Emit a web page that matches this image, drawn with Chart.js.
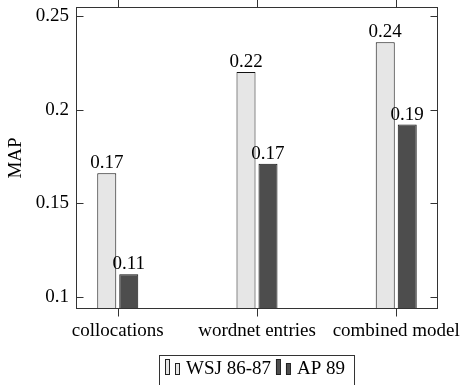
<!DOCTYPE html>
<html>
<head>
<meta charset="utf-8">
<script src="https://cdn.jsdelivr.net/npm/chart.js@4.4.1/dist/chart.umd.min.js"></script>
<style>
  html, body { margin: 0; padding: 0; background: #fff; }
  #wrap { width: 462px; height: 385px; position: relative; }
</style>
</head>
<body>
<div id="wrap"><canvas id="chart"></canvas></div>
<script>
// data
const categories = ["collocations", "wordnet entries", "combined model"];
const seriesNames = ["WSJ 86-87", "AP 89"];
const wsjValues = [0.166, 0.220, 0.236];
const apValues = [0.112, 0.171, 0.192];
const yTicks = [0.1, 0.15, 0.2, 0.25];

const FONT = "'Liberation Serif', 'Times New Roman', serif";
const fills = ["#e6e6e6", "#4d4d4d"];

// value labels above each bar
const valueLabels = {
  id: "valueLabels",
  afterDatasetsDraw(chart) {
    const ctx = chart.ctx;
    ctx.save();
    ctx.font = "19px " + FONT;
    ctx.fillStyle = "#000";
    ctx.textAlign = "center";
    ctx.textBaseline = "alphabetic";
    chart.data.datasets.forEach((ds, di) => {
      chart.getDatasetMeta(di).data.forEach((bar, i) => {
        ctx.fillText(ds.data[i].y.toFixed(2), bar.x, bar.y - 5);
      });
    });
    ctx.restore();
  }
};

// pgfplots-like frame: box, x ticks outward, y ticks inward
const frame = {
  id: "frame",
  afterDraw(chart) {
    const { ctx, chartArea: a, scales: { x, y } } = chart;
    const L = Math.round(a.left) + 0.5, R = Math.round(a.right) - 0.5;
    const T = Math.round(a.top) + 0.5, B = Math.round(a.bottom) - 0.5;
    const line = (x1, y1, x2, y2) => { ctx.beginPath(); ctx.moveTo(x1, y1); ctx.lineTo(x2, y2); ctx.stroke(); };
    ctx.save();
    ctx.strokeStyle = "#333";
    ctx.lineWidth = 1;
    ctx.strokeRect(L, T, R - L, B - T);
    categories.forEach((_, i) => {
      const px = Math.round(x.getPixelForValue(i)) + 0.5;
      line(px, T - 8, px, T);
      line(px, B, px, B + 8);
    });
    yTicks.forEach(v => {
      const py = Math.round(y.getPixelForValue(v)) + 0.5;
      line(L, py, L + 7, py);
      line(R - 7, py, R, py);
    });
    ctx.restore();
  }
};

// boxed legend with little double-bar icons
const boxLegend = {
  id: "boxLegend",
  afterDraw(chart) {
    const { ctx, chartArea: a } = chart;
    ctx.save();
    ctx.font = "19px " + FONT;
    const widths = seriesNames.map(t => ctx.measureText(t).width);
    const pad = 6, icon = 14, gapIcon = 7, gapItem = 5, padR = 9;
    const total = pad + (icon + gapIcon) * 2 + widths[0] + gapItem + widths[1] + padR;
    const cx = (a.left + a.right) / 2;
    let x0 = Math.round(cx - total / 2);
    const top = 355, base = 374;
    ctx.strokeStyle = "#333";
    ctx.lineWidth = 1;
    ctx.strokeRect(x0 + 0.5, top + 0.5, total, 40);
    let cur = x0 + pad;
    seriesNames.forEach((name, i) => {
      ctx.fillStyle = fills[i];
      ctx.strokeStyle = "#222";
      ctx.fillRect(cur, base - 15, 4, 15);
      ctx.strokeRect(cur + 0.5, base - 15 + 0.5, 4, 15);
      ctx.fillRect(cur + 10, base - 11, 4, 11);
      ctx.strokeRect(cur + 10.5, base - 11 + 0.5, 4, 11);
      cur += icon + gapIcon;
      ctx.fillStyle = "#000";
      ctx.textBaseline = "alphabetic";
      ctx.fillText(name, cur, base);
      cur += widths[i] + gapItem;
    });
    ctx.restore();
  }
};

const pickTicks = list => scale => { scale.ticks = list.map(v => ({ value: v })); };

new Chart(document.getElementById("chart"), {
  type: "bar",
  data: {
    datasets: [
      { label: seriesNames[0], data: wsjValues.map((v, i) => ({ x: i, y: v })),
        backgroundColor: fills[0], borderColor: "#111", borderWidth: 1 },
      { label: seriesNames[1], data: apValues.map((v, i) => ({ x: i, y: v })),
        backgroundColor: fills[1], borderColor: "#111", borderWidth: 1 }
    ]
  },
  options: {
    responsive: true,
    maintainAspectRatio: false,
    animation: false,
    categoryPercentage: 0.316,
    barPercentage: 0.864,
    layout: { padding: { left: 0, top: 7, right: 24, bottom: 0 } },
    plugins: {
      legend: { display: false },
      tooltip: { enabled: false }
    },
    scales: {
      x: {
        type: "linear",
        min: -0.3,
        max: 2.3,
        offset: false,
        afterBuildTicks: pickTicks([0, 1, 2]),
        afterFit: s => { s.height = 76; s.paddingLeft = 0; s.paddingRight = 0; },
        grid: { display: false, drawTicks: false },
        border: { display: false },
        ticks: {
          padding: 11,
          color: "#000",
          font: { family: FONT, size: 19 },
          maxRotation: 0,
          autoSkip: false,
          callback: v => categories[v]
        }
      },
      y: {
        min: 0.0934,
        max: 0.2548,
        afterBuildTicks: pickTicks(yTicks),
        afterFit: s => { s.width = 76; s.paddingTop = 0; s.paddingBottom = 0; },
        grid: { display: false, drawTicks: false },
        border: { display: false },
        ticks: {
          padding: 7,
          color: "#000",
          font: { family: FONT, size: 19 },
          callback: v => String(v)
        },
        title: {
          display: true,
          text: "MAP",
          color: "#000",
          font: { family: FONT, size: 19 },
          padding: { top: 5, bottom: 0 }
        }
      }
    }
  },
  plugins: [valueLabels, frame, boxLegend]
});
</script>
</body>
</html>
